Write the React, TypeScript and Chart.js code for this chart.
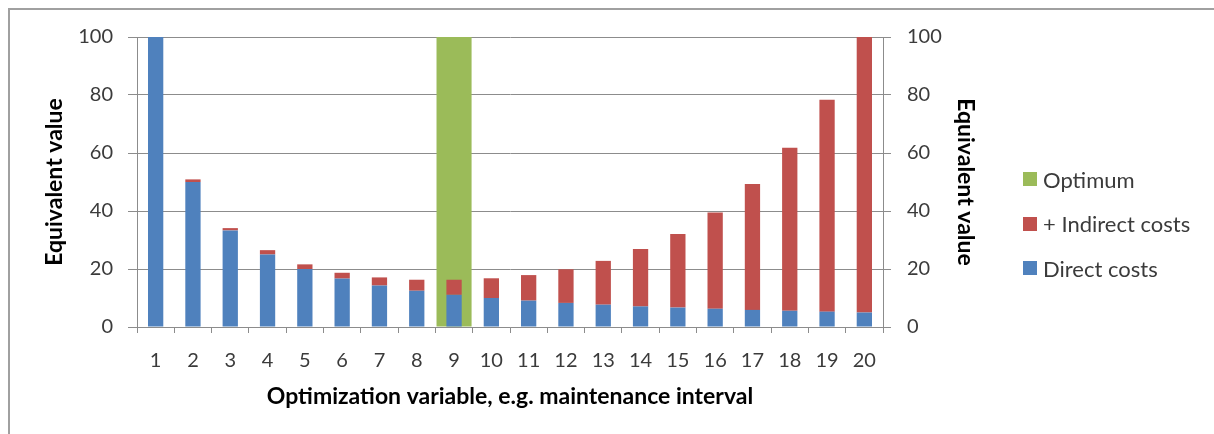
import React, { useEffect, useRef } from "react";
import { Chart, registerables } from "chart.js";

Chart.register(...registerables);

const categories = ["1", "2", "3", "4", "5", "6", "7", "8", "9", "10", "11", "12", "13", "14", "15", "16", "17", "18", "19", "20"];
const directCosts = [100, 50, 33.3, 25, 20, 16.7, 14.3, 12.5, 11.1, 10, 9.1, 8.3, 7.7, 7.1, 6.7, 6.3, 5.9, 5.6, 5.3, 5];
const indirectCosts = [0, 0.9, 0.8, 1.5, 1.6, 2.0, 2.8, 3.8, 5.2, 6.8, 8.8, 11.6, 15.1, 19.8, 25.4, 33.2, 43.4, 56.2, 73.1, 95];
const optimum = [null, null, null, null, null, null, null, null, 100, null, null, null, null, null, null, null, null, null, null, null];
const yTicks = [0, 20, 40, 60, 80, 100];

const seriesNames = ["Optimum", "+ Indirect costs", "Direct costs"];
const seriesColors = ["#9BBB59", "#C0504D", "#4F81BD"];

const FONT = "Lato, 'Open Sans', sans-serif";
const TEXT = "#3b3b3b";
const GRID = "#8c8c8c";

export default function App() {
  const ref = useRef<HTMLCanvasElement | null>(null);

  useEffect(() => {
    if (!ref.current) return;
    const chart = new Chart(ref.current, {
      type: "bar",
      data: {
        labels: categories,
        datasets: [
          {
            label: seriesNames[2],
            data: directCosts,
            backgroundColor: seriesColors[2],
            stack: "costs",
            grouped: false,
            barPercentage: 0.41,
            categoryPercentage: 1,
            order: 1,
          },
          {
            label: seriesNames[1],
            data: indirectCosts,
            backgroundColor: seriesColors[1],
            stack: "costs",
            grouped: false,
            barPercentage: 0.41,
            categoryPercentage: 1,
            order: 1,
          },
          {
            label: seriesNames[0],
            data: optimum as any,
            backgroundColor: seriesColors[0],
            stack: "opt",
            grouped: false,
            barPercentage: 0.94,
            categoryPercentage: 1,
            order: 2,
          },
        ],
      },
      options: {
        animation: false,
        responsive: false,
        maintainAspectRatio: false,
        layout: { padding: { left: 30, right: 233, top: 37, bottom: 22 } },
        plugins: {
          legend: { display: false },
          tooltip: { enabled: false },
        },
        scales: {
          x: {
            stacked: true,
            offset: true,
            grid: {
              offset: true,
              drawOnChartArea: false,
              drawTicks: true,
              tickLength: 6,
              color: GRID,
            },
            border: { display: true, color: GRID, width: 1 },
            ticks: { font: { family: FONT, size: 20 }, color: TEXT, padding: 16, maxRotation: 0, autoSkip: false },
            title: {
              display: true,
              text: "Optimization variable, e.g. maintenance interval",
              font: { family: FONT, size: 23, weight: "bold" },
              color: "#000",
              padding: { top: 0, bottom: 2 },
            },
            afterFit: (s: any) => {
              s.height = 85;
            },
          },
          y: {
            stacked: true,
            min: 0,
            max: 100,
            afterBuildTicks: (s: any) => {
              s.ticks = yTicks.map((v) => ({ value: v }));
            },
            grid: { color: GRID, tickLength: 9, drawTicks: true },
            border: { display: true, color: GRID },
            ticks: { font: { family: FONT, size: 20 }, color: TEXT, padding: 15 },
            title: {
              display: true,
              text: "Equivalent value",
              font: { family: FONT, size: 23, weight: "bold" },
              color: "#000",
              padding: { top: 11, bottom: 0 },
            },
            afterFit: (s: any) => {
              s.width = 107;
            },
          },
          y2: {
            position: "right",
            min: 0,
            max: 100,
            afterBuildTicks: (s: any) => {
              s.ticks = yTicks.map((v) => ({ value: v }));
            },
            grid: { drawOnChartArea: false, color: GRID, tickLength: 8, drawTicks: true },
            border: { display: true, color: GRID },
            ticks: { font: { family: FONT, size: 20 }, color: TEXT, padding: 16 },
            title: {
              display: true,
              text: "Equivalent value",
              font: { family: FONT, size: 23, weight: "bold" },
              color: "#000",
              padding: { top: 2, bottom: 0 },
            },
            afterFit: (s: any) => {
              s.width = 98;
            },
          },
        },
      },
    });
    return () => chart.destroy();
  }, []);

  return (
    <div>
      <div
        style={{
          position: "fixed",
          left: 8,
          top: 8,
          width: 1206,
          height: 426,
          boxSizing: "border-box",
          borderTop: "2px solid #a0a0a0",
          borderLeft: "2px solid #a0a0a0",
        }}
      />
      <div style={{ position: "fixed", left: 0, top: 0, width: 1214, height: 434 }}>
        <canvas ref={ref} width={1214} height={434} style={{ width: 1214, height: 434, display: "block" }} />
      </div>
      <div style={{ position: "fixed", left: 1023, top: 157, fontFamily: FONT, fontSize: 22, color: TEXT }}>
        {seriesNames.map((name, i) => (
          <div key={name} style={{ display: "flex", alignItems: "center", height: 44.5 }}>
            <span style={{ display: "inline-block", width: 14, height: 14, background: seriesColors[i], marginRight: 6 }} />
            <span>{name}</span>
          </div>
        ))}
      </div>
    </div>
  );
}
